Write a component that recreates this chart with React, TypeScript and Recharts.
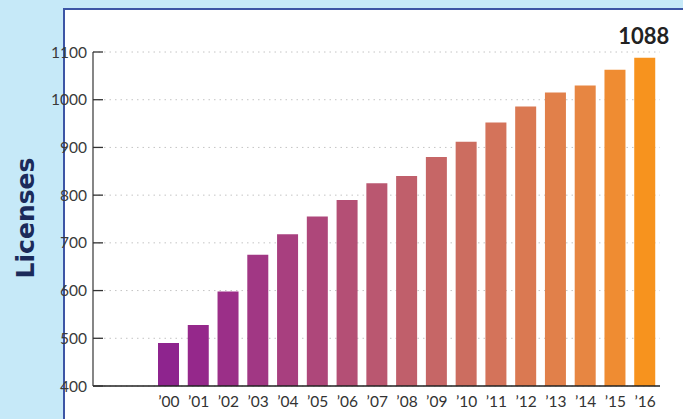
import React from 'react';
import { BarChart, Bar, XAxis, YAxis, CartesianGrid, Cell, LabelList } from 'recharts';

const years = ['’00', '’01', '’02', '’03', '’04', '’05', '’06', '’07', '’08', '’09', '’10', '’11', '’12', '’13', '’14', '’15', '’16'];
const licenses = [490, 528, 598, 675, 718, 755, 790, 825, 840, 880, 912, 952, 986, 1015, 1030, 1063, 1088];
const yTicks = [400, 500, 600, 700, 800, 900, 1000, 1100];
const barColors = [
  '#8e248e', '#95288b', '#9b2f88', '#a13784', '#a83f7f', '#ae477a', '#b44f75', '#ba5770', '#c05f6b',
  '#c66666', '#cc6d60', '#d4735a', '#da7952', '#e1804a', '#e78642', '#ef8c32', '#f7931e',
];

const data = years.map((year, i) => ({ year, licenses: licenses[i] }));
const lastValue = licenses[licenses.length - 1];

const YTick = (props: any) => {
  const { x, y, payload } = props;
  return (
    <g>
      <line x1={x + 6} x2={x + 16} y1={y} y2={y} stroke="#333" strokeWidth={1.3} />
      <text x={x} y={y} dy="0.36em" textAnchor="end" fontFamily="Lato" fontSize={15.5} fill="#3a3a3a">
        {payload.value}
      </text>
    </g>
  );
};

const TopLabel = (props: any) => {
  const { x, y, width, value } = props;
  if (value !== lastValue) return null;
  return (
    <text x={x + width / 2 - 1} y={y - 14} textAnchor="middle" fontFamily="Lato" fontWeight={700} fontSize={22} fill="#222">
      {value}
    </text>
  );
};

export default function App() {
  return (
    <div style={{ position: 'absolute', left: 0, top: 0, width: 683, height: 419, background: '#c6e9f8', overflow: 'hidden' }}>
      <div
        style={{
          position: 'absolute', left: 63, top: 8, width: 640, height: 430, background: '#ffffff',
          borderLeft: '2px solid #3d55a5', borderTop: '2px solid #3d55a5', boxSizing: 'border-box',
        }}
      />
      <svg style={{ position: 'absolute', left: 0, top: 0 }} width={63} height={419}>
        <text
          x={34} y={218} transform="rotate(-90 34 218)" textAnchor="middle"
          fontFamily="DejaVu Sans" fontWeight={700} fontSize={25} fill="#1b2a5a"
        >
          Licenses
        </text>
      </svg>
      <div style={{ position: 'absolute', left: 0, top: 0 }}>
        <BarChart width={683} height={419} data={data} margin={{ top: 52, right: 23, bottom: 0, left: 0 }}>
          <CartesianGrid horizontal vertical={false} stroke="#c4c4c4" strokeDasharray="1.5 4" />
          <XAxis
            dataKey="year" height={33} interval={0} padding={{ left: 61, right: 0 }}
            tickLine={false} tickSize={0} tickMargin={10}
            axisLine={{ stroke: '#222', strokeWidth: 1.5 }}
            tick={{ fontFamily: 'Lato', fontSize: 15.5, fill: '#333' }}
          />
          <YAxis
            width={93} domain={[400, 1100]} ticks={yTicks} interval={0} allowDataOverflow
            tickLine={false} tickSize={0} tickMargin={6}
            axisLine={{ stroke: '#444', strokeWidth: 1.3 }}
            tick={<YTick />}
          />
          <Bar dataKey="licenses" barSize={21} isAnimationActive={false}>
            {data.map((d, i) => (
              <Cell key={d.year} fill={barColors[i]} />
            ))}
            <LabelList dataKey="licenses" content={<TopLabel />} />
          </Bar>
        </BarChart>
      </div>
    </div>
  );
}
